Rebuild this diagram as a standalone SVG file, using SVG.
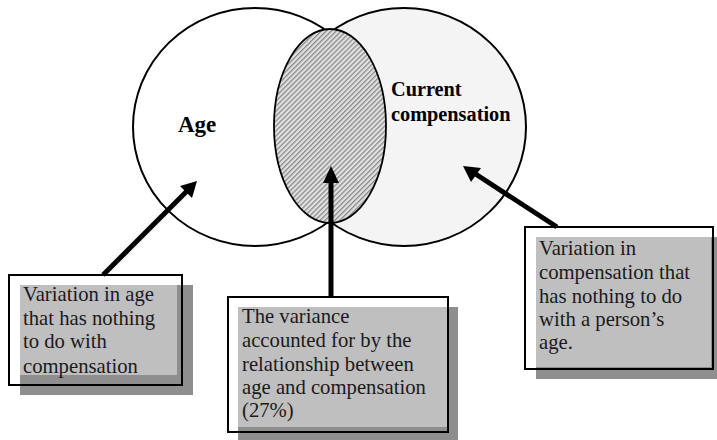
<svg xmlns="http://www.w3.org/2000/svg" width="717" height="440" viewBox="0 0 717 440">
<style>
.c{stroke:#000;stroke-width:2}
.hd{font-family:"Liberation Serif","Times New Roman",serif;font-weight:bold;fill:#000}
.tx{font-family:"Liberation Serif","Times New Roman",serif;font-size:20.7px;fill:#1a1a1a}
.sh{fill:#8e8e8e}
.lt{fill:#bfbfbf}
.ol{fill:none;stroke:#000;stroke-width:2}
.ar{stroke:#000;stroke-width:5;fill:none}
.ah{fill:#000}
</style>
<defs>
<pattern id="hatch" width="3.5" height="3.5" patternUnits="userSpaceOnUse" patternTransform="rotate(45)">
<rect width="3.5" height="3.5" fill="#e2e2e2"/>
<rect width="1.3" height="3.5" fill="#8a8a8a"/>
</pattern>
</defs>
<rect width="717" height="440" fill="#fff"/>
<g id="current-compensation">
<ellipse class="c" cx="404" cy="127" rx="122" ry="119" fill="#f4f4f4"/>
<text class="hd" font-size="20.3" x="391" y="96">Current</text>
<text class="hd" font-size="20.3" x="391" y="121">compensation</text>
</g>
<g id="age">
<ellipse class="c" cx="255" cy="127" rx="122" ry="119" fill="none"/>
<text class="hd" font-size="23" x="178" y="132">Age</text>
</g>
<g id="overlap">
<ellipse cx="330" cy="126" rx="56" ry="97" fill="url(#hatch)" stroke="#000" stroke-width="1.8"/>
</g>
<g id="box-age">
<rect class="sh" x="20" y="285" width="173" height="110"/>
<rect class="lt" x="20" y="285" width="157" height="90"/>
<rect class="ol" x="9" y="275" width="173" height="110"/>
<text class="tx" x="23" y="301">Variation in age</text>
<text class="tx" x="23" y="325">that has nothing</text>
<text class="tx" x="23" y="348">to do with</text>
<text class="tx" x="23" y="373">compensation</text>
</g>
<g id="box-shared">
<rect class="sh" x="238" y="307" width="220" height="140"/>
<rect class="lt" x="238" y="307" width="209" height="120"/>
<rect class="ol" x="228" y="297" width="220" height="135"/>
<text class="tx" x="242" y="323">The variance</text>
<text class="tx" x="242" y="347">accounted for by the</text>
<text class="tx" x="242" y="371">relationship between</text>
<text class="tx" x="242" y="394">age and compensation</text>
<text class="tx" x="242" y="417">(27%)</text>
</g>
<g id="box-comp">
<rect class="sh" x="536" y="237" width="188" height="142"/>
<rect class="lt" x="536" y="237" width="175" height="130"/>
<rect class="ol" x="525" y="227" width="188" height="142"/>
<text class="tx" x="539" y="255">Variation in</text>
<text class="tx" x="539" y="279">compensation that</text>
<text class="tx" x="539" y="303">has nothing to do</text>
<text class="tx" x="539" y="326">with a person’s</text>
<text class="tx" x="539" y="349">age.</text>
</g>
<g id="connectors">
<line class="ar" x1="103" y1="275" x2="187" y2="191"/>
<polygon class="ah" points="197,181 180,186 192,198"/>
<line class="ar" x1="331" y1="297" x2="331" y2="180"/>
<polygon class="ah" points="331,166 323,183 339,183"/>
<line class="ar" x1="557" y1="227" x2="474" y2="173"/>
<polygon class="ah" points="463,166 471,182 481,168"/>
</g>
</svg>
